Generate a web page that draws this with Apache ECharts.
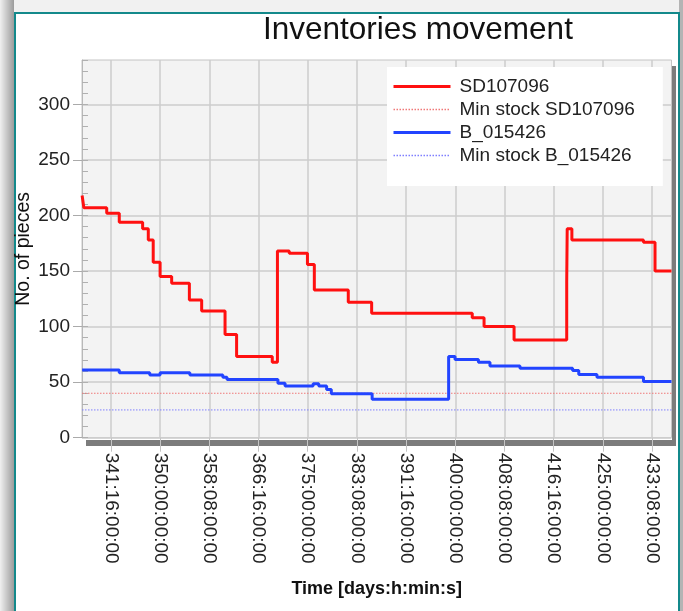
<!DOCTYPE html>
<html>
<head>
<meta charset="utf-8">
<script src="https://cdn.jsdelivr.net/npm/echarts@6/dist/echarts.min.js"></script>
<style>
  html, body { margin: 0; padding: 0; background: #fff; }
  #main { width: 683px; height: 611px; }
</style>
</head>
<body>
<div id="main"></div>
<script>
// time is in hours (days*24 + h), stock in pieces
var xTickLabels = ['341:16:00:00', '350:00:00:00', '358:08:00:00', '366:16:00:00',
  '375:00:00:00', '383:08:00:00', '391:16:00:00', '400:00:00:00', '408:08:00:00',
  '416:16:00:00', '425:00:00:00', '433:08:00:00'];
var yTicks = [0, 50, 100, 150, 200, 250, 300];
var timeStart = 8082.5;
var timeEnd = 10479;

// SD107096 - one point per level change
var sdTimes = [8083, 8090, 8183, 8234, 8329, 8352, 8372, 8400, 8447, 8519, 8569, 8664,
  8711, 8856, 8877, 8925, 8999, 9027, 9165, 9260, 9669, 9717, 9839, 10053, 10055,
  10074, 10365, 10412, 10479];
var sdValues = [218, 207, 202, 194, 188, 178, 158, 145, 139, 124, 114, 93,
  73, 68, 168, 166, 156, 133, 122, 112, 108, 100, 88, 140, 188,
  178, 176, 150, 150];

// B_015426
var bTimes = [8083, 8234, 8358, 8400, 8521, 8655, 8672, 8879, 8908, 9022, 9045, 9077,
  9096, 9262, 9573, 9599, 9694, 9741, 9863, 10077, 10102, 10176, 10365, 10479];
var bValues = [61, 58.5, 56.5, 58.5, 56.5, 54.5, 52.5, 49, 46.5, 48.5, 46.5, 43.5,
  39.5, 34.5, 73, 70.5, 68, 64.5, 62.5, 60.5, 57, 54.5, 50.5, 50.5];

var sdMinStock = 40;
var bMinStock = 25;

var font = 'Liberation Sans, Arial, sans-serif';
var red = '#ff1010', redMin = '#f07878', blue = '#2244ff', blueMin = '#7f7fff';

function labelToHours(s) {
  var p = s.split(':');
  return Number(p[0]) * 24 + Number(p[1]);
}
function hoursToLabel(v) {
  var d = Math.floor(v / 24 + 1e-6);
  var h = Math.round(v - d * 24);
  return d + ':' + (h < 10 ? '0' : '') + h + ':00:00';
}
function pairs(ts, vs) {
  return ts.map(function (t, i) { return [t, vs[i]]; });
}

var xTicks = xTickLabels.map(labelToHours);
var noSymbol = { opacity: 0 };

var chart = echarts.init(document.getElementById('main'));
chart.setOption({
  animation: false,
  backgroundColor: '#fff',
  title: {
    text: 'Inventories movement',
    left: 263,
    top: 14,
    padding: 0,
    textStyle: { fontFamily: font, fontSize: 31.5, fontWeight: 'normal', color: '#111' }
  },
  legend: {
    orient: 'vertical',
    left: 387,
    top: 67,
    padding: [10, 28, 21, 5],
    itemGap: 4,
    itemWidth: 57,
    itemHeight: 12,
    backgroundColor: '#fff',
    textStyle: { fontFamily: font, fontSize: 19, color: '#222', padding: [0, 0, 0, 4] },
    data: [
      { name: 'SD107096', itemStyle: noSymbol, lineStyle: { width: 3, color: red, type: 'solid' } },
      { name: 'Min stock SD107096', itemStyle: noSymbol, lineStyle: { width: 1.3, color: redMin, type: [1.5, 1.5] } },
      { name: 'B_015426', itemStyle: noSymbol, lineStyle: { width: 3, color: blue, type: 'solid' } },
      { name: 'Min stock B_015426', itemStyle: noSymbol, lineStyle: { width: 1.3, color: blueMin, type: [1.5, 1.5] } }
    ]
  },
  grid: {
    left: 82,
    right: 11.5,
    top: 60,
    bottom: 173.3,
    show: true,
    backgroundColor: '#f3f3f3',
    borderColor: '#c4c4c4',
    borderWidth: 1
  },
  xAxis: {
    type: 'value',
    min: timeStart,
    max: timeEnd,
    name: 'Time [days:h:min:s]',
    nameLocation: 'middle',
    nameGap: 142,
    nameMoveOverlap: false,
    nameTextStyle: { fontFamily: font, fontSize: 18, fontWeight: 'bold', color: '#111' },
    axisLine: { show: false },
    axisTick: { show: true, customValues: xTicks, length: 14, lineStyle: { color: '#c4c4c4' } },
    axisLabel: {
      customValues: xTicks,
      rotate: -90,
      margin: 15,
      fontFamily: font,
      fontSize: 19,
      color: '#222',
      formatter: hoursToLabel
    },
    splitLine: { show: true, lineStyle: { color: '#cdcdcd', width: 1.5 } }
  },
  yAxis: [{
    type: 'value',
    min: 0,
    max: 340,
    name: 'No. of pieces',
    nameLocation: 'middle',
    nameGap: 48,
    nameMoveOverlap: false,
    nameTextStyle: { fontFamily: font, fontSize: 19.5, color: '#111' },
    axisLine: { show: true, lineStyle: { color: '#b8b8b8' } },
    axisTick: { show: true, customValues: yTicks, length: 9, lineStyle: { color: '#aaa' } },
    axisLabel: { customValues: yTicks, margin: 12, fontFamily: font, fontSize: 19, color: '#222' },
    splitLine: { show: true, lineStyle: { color: '#cdcdcd', width: 1.5 } }
  }, {
    type: 'value',
    min: 0,
    max: 340,
    interval: 10,
    position: 'left',
    axisLine: { show: false },
    axisTick: { show: true, inside: true, length: 6, lineStyle: { color: '#b0b0b0' } },
    axisLabel: { show: false },
    splitLine: { show: false }
  }],
  graphic: [
    { type: 'rect', z: -10, shape: { x: 0, y: 0, width: 14, height: 611 },
      style: { fill: new echarts.graphic.LinearGradient(0, 0, 1, 0, [
        { offset: 0, color: '#f0f0f0' }, { offset: 1, color: '#9c9c9c' }]) } },
    { type: 'rect', z: -10, shape: { x: 14, y: 0, width: 669, height: 12 },
      style: { fill: '#f1f1f1' } },
    { type: 'rect', z: -10, shape: { x: 679, y: 0, width: 4, height: 611 },
      style: { fill: '#b4b4b4' } },
    { type: 'rect', z: -9, shape: { x: 15, y: 13, width: 664, height: 620 },
      style: { fill: 'none', stroke: '#13898b', lineWidth: 2 } },
    { type: 'rect', z: -5, shape: { x: 672, y: 66, width: 4, height: 380 },
      style: { fill: '#7c7c7c' } },
    { type: 'rect', z: -5, shape: { x: 86, y: 440, width: 590, height: 6 },
      style: { fill: '#7c7c7c' } }
  ],
  series: [{
    name: 'SD107096',
    type: 'line',
    step: 'end',
    symbol: 'none',
    z: 4,
    lineStyle: { width: 3, color: red },
    itemStyle: { color: red },
    data: pairs(sdTimes, sdValues)
  }, {
    name: 'Min stock SD107096',
    type: 'line',
    symbol: 'none',
    z: 2,
    lineStyle: { width: 1, color: redMin, type: [1.5, 1.5] },
    itemStyle: { color: redMin },
    data: [[timeStart, sdMinStock], [timeEnd, sdMinStock]]
  }, {
    name: 'B_015426',
    type: 'line',
    step: 'end',
    symbol: 'none',
    z: 5,
    lineStyle: { width: 3, color: blue },
    itemStyle: { color: blue },
    data: pairs(bTimes, bValues)
  }, {
    name: 'Min stock B_015426',
    type: 'line',
    symbol: 'none',
    z: 2,
    lineStyle: { width: 1, color: blueMin, type: [1.5, 1.5] },
    itemStyle: { color: blueMin },
    data: [[timeStart, bMinStock], [timeEnd, bMinStock]]
  }]
});
</script>
</body>
</html>
